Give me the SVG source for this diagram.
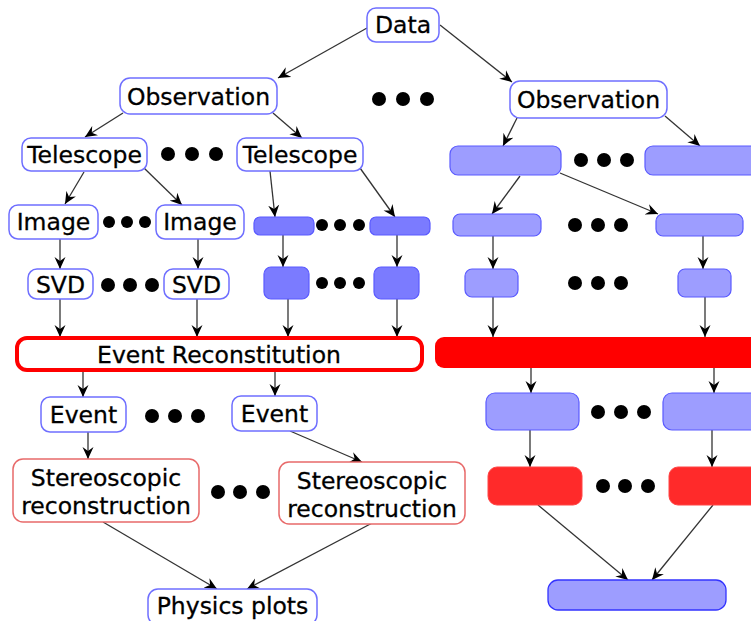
<svg xmlns="http://www.w3.org/2000/svg" width="751" height="621" viewBox="0 0 751 621">
<defs>
<marker id="ah" viewBox="-12 -6 13 12" refX="0" refY="0" markerWidth="13" markerHeight="12" markerUnits="userSpaceOnUse" orient="auto">
<path d="M0,0 L-12,-5.5 L-8,0 L-12,5.5 Z" fill="#000"/>
</marker>
<style>
.ob{fill:#fff;stroke:#6f6fff;stroke-width:1.5}
.lb{fill:#9d9dff;stroke:#5a5aff;stroke-width:1.2}
.db{fill:#7b7bff;stroke:#5a5aff;stroke-width:1.2}
.rb{fill:#ff2a2a;stroke:#ff4444;stroke-width:1}
.rs{fill:#fff;stroke:#e86a6a;stroke-width:1.5}
.t{font-family:"DejaVu Sans",sans-serif;font-size:23.5px;fill:#000;stroke:#000;stroke-width:0.3;text-anchor:middle}
.c line{stroke:#333;stroke-width:1.3;marker-end:url(#ah)}
.d{fill:#000}
</style>
</defs>
<rect width="751" height="621" fill="#fff"/>

<g class="c" id="connectors">
<line x1="367" y1="28" x2="278" y2="78"/>
<line x1="440" y1="25" x2="512" y2="82"/>
<line x1="123" y1="113" x2="85" y2="137"/>
<line x1="273" y1="113" x2="302" y2="138"/>
<line x1="84" y1="172" x2="65" y2="204"/>
<line x1="144" y1="168" x2="182" y2="205"/>
<line x1="270" y1="171" x2="275" y2="217"/>
<line x1="360" y1="168" x2="395" y2="217"/>
<line x1="60" y1="239" x2="60" y2="269"/>
<line x1="198" y1="239" x2="198" y2="269"/>
<line x1="283" y1="235" x2="283" y2="267"/>
<line x1="397" y1="235" x2="397" y2="267"/>
<line x1="60" y1="299" x2="60" y2="337"/>
<line x1="197" y1="299" x2="197" y2="337"/>
<line x1="288" y1="299" x2="288" y2="337"/>
<line x1="397" y1="299" x2="397" y2="337"/>
<line x1="83" y1="371" x2="83" y2="397"/>
<line x1="275" y1="371" x2="275" y2="396"/>
<line x1="88" y1="432" x2="88" y2="459"/>
<line x1="290" y1="431" x2="362" y2="462"/>
<line x1="103" y1="522" x2="217" y2="589"/>
<line x1="376" y1="521" x2="247" y2="589"/>
<line x1="517" y1="118" x2="503" y2="146"/>
<line x1="665" y1="116" x2="700" y2="146"/>
<line x1="520" y1="176" x2="492" y2="214"/>
<line x1="560" y1="173" x2="658" y2="214"/>
<line x1="493" y1="236" x2="493" y2="269"/>
<line x1="703" y1="236" x2="703" y2="269"/>
<line x1="493" y1="297" x2="493" y2="337"/>
<line x1="705" y1="297" x2="705" y2="337"/>
<line x1="531" y1="368" x2="531" y2="393"/>
<line x1="714" y1="368" x2="714" y2="393"/>
<line x1="530" y1="430" x2="530" y2="467"/>
<line x1="712" y1="430" x2="712" y2="467"/>
<line x1="538" y1="505" x2="628" y2="580"/>
<line x1="713" y1="505" x2="652" y2="580"/>
</g>

<g id="data"><rect class="ob" x="367" y="8" width="72" height="34" rx="9"/><text class="t" x="403" y="33">Data</text></g>
<g id="obs1"><rect class="ob" x="120" y="78" width="157" height="36" rx="10"/><text class="t" x="198.5" y="105">Observation</text></g>
<g id="obs2"><rect class="ob" x="510" y="81" width="157" height="37" rx="10"/><text class="t" x="588.5" y="108">Observation</text></g>
<g id="tel1"><rect class="ob" x="22" y="138" width="125" height="33" rx="9"/><text class="t" x="84.5" y="163">Telescope</text></g>
<g id="tel2"><rect class="ob" x="237" y="138" width="126" height="33" rx="9"/><text class="t" x="300" y="163">Telescope</text></g>
<g id="img1"><rect class="ob" x="9" y="205" width="89" height="34" rx="9"/><text class="t" x="53.5" y="230">Image</text></g>
<g id="img2"><rect class="ob" x="156" y="205" width="88" height="34" rx="9"/><text class="t" x="200" y="230">Image</text></g>
<g id="svd1"><rect class="ob" x="28" y="269" width="65" height="30" rx="9"/><text class="t" x="60.5" y="293">SVD</text></g>
<g id="svd2"><rect class="ob" x="164" y="269" width="65" height="30" rx="9"/><text class="t" x="196.5" y="293">SVD</text></g>
<g id="sb1"><rect class="db" x="254" y="217" width="60" height="18" rx="6"/></g>
<g id="sb2"><rect class="db" x="370" y="217" width="60" height="18" rx="6"/></g>
<g id="sq1"><rect class="db" x="264" y="267" width="45" height="32" rx="7"/></g>
<g id="sq2"><rect class="db" x="374" y="267" width="45" height="32" rx="7"/></g>
<g id="recon"><rect x="17" y="338" width="405" height="32" rx="10" fill="#fff" stroke="#ff0000" stroke-width="4"/><text class="t" x="219" y="363">Event Reconstitution</text></g>
<g id="redbar"><rect x="435" y="337" width="330" height="31" rx="9" fill="#ff0000"/></g>
<g id="ev1"><rect class="ob" x="41" y="397" width="85" height="35" rx="9"/><text class="t" x="83.5" y="423">Event</text></g>
<g id="ev2"><rect class="ob" x="232" y="396" width="85" height="35" rx="9"/><text class="t" x="274.5" y="422">Event</text></g>
<g id="st1"><rect class="rs" x="13" y="459" width="186" height="63" rx="10"/><text class="t" x="106" y="486">Stereoscopic</text><text class="t" x="106" y="514">reconstruction</text></g>
<g id="st2"><rect class="rs" x="279" y="462" width="186" height="62" rx="10"/><text class="t" x="372" y="489">Stereoscopic</text><text class="t" x="372" y="517">reconstruction</text></g>
<g id="phys"><rect class="ob" x="148" y="589" width="169" height="36" rx="10"/><text class="t" x="232.5" y="614">Physics plots</text></g>

<g id="rt1"><rect class="lb" x="450" y="146" width="111" height="29" rx="8"/></g>
<g id="rt2"><rect class="lb" x="645" y="146" width="120" height="29" rx="8"/></g>
<g id="ri1"><rect class="lb" x="453" y="214" width="88" height="22" rx="7"/></g>
<g id="ri2"><rect class="lb" x="656" y="214" width="87" height="22" rx="7"/></g>
<g id="rs1"><rect class="lb" x="465" y="269" width="53" height="28" rx="7"/></g>
<g id="rs2"><rect class="lb" x="678" y="269" width="53" height="28" rx="7"/></g>
<g id="re1"><rect class="lb" x="486" y="393" width="93" height="37" rx="9"/></g>
<g id="re2"><rect class="lb" x="663" y="393" width="100" height="37" rx="9"/></g>
<g id="rr1"><rect class="rb" x="488" y="467" width="94" height="38" rx="9"/></g>
<g id="rr2"><rect class="rb" x="669" y="467" width="100" height="38" rx="9"/></g>
<g id="rp"><rect x="548" y="580" width="178" height="30" rx="10" fill="#9d9dff" stroke="#3333ff" stroke-width="1.3"/></g>

<g id="dots" class="d">
<circle cx="379" cy="99" r="7"/><circle cx="403" cy="99" r="7"/><circle cx="427" cy="99" r="7"/>
<circle cx="168" cy="154" r="7"/><circle cx="192" cy="154" r="7"/><circle cx="216" cy="154" r="7"/>
<circle cx="581" cy="160" r="7"/><circle cx="604" cy="160" r="7"/><circle cx="627" cy="160" r="7"/>
<circle cx="109" cy="222" r="6"/><circle cx="127" cy="222" r="6"/><circle cx="145" cy="222" r="6"/>
<circle cx="322" cy="225" r="6"/><circle cx="340" cy="225" r="6"/><circle cx="359" cy="225" r="6"/>
<circle cx="575" cy="225" r="7"/><circle cx="598" cy="225" r="7"/><circle cx="621" cy="225" r="7"/>
<circle cx="108" cy="285" r="7"/><circle cx="130" cy="285" r="7"/><circle cx="152" cy="285" r="7"/>
<circle cx="322" cy="283" r="6"/><circle cx="340" cy="283" r="6"/><circle cx="359" cy="283" r="6"/>
<circle cx="575" cy="283" r="7"/><circle cx="598" cy="283" r="7"/><circle cx="621" cy="283" r="7"/>
<circle cx="152" cy="416" r="7"/><circle cx="175" cy="416" r="7"/><circle cx="198" cy="416" r="7"/>
<circle cx="598" cy="412" r="7"/><circle cx="621" cy="412" r="7"/><circle cx="644" cy="412" r="7"/>
<circle cx="218" cy="492" r="7"/><circle cx="240" cy="492" r="7"/><circle cx="263" cy="492" r="7"/>
<circle cx="603" cy="486" r="7"/><circle cx="625" cy="486" r="7"/><circle cx="648" cy="486" r="7"/>
</g>
</svg>
